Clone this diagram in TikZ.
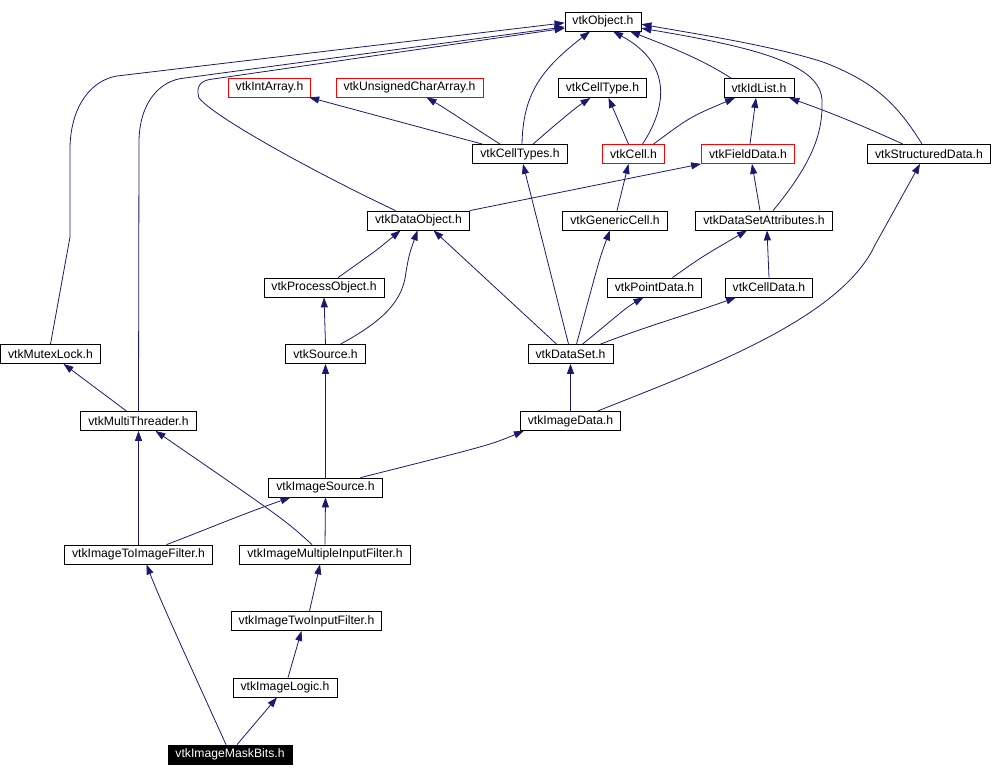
\documentclass[tikz,border=0pt]{standalone}
\usepackage{fontspec}
\setmainfont{Liberation Sans}
\usetikzlibrary{arrows.meta}
\definecolor{edgeblue}{RGB}{25,25,112}
\tikzset{
  hdr/.style={draw=black, line width=0.8pt, font=\fontsize{12.2}{14}\selectfont,
    inner xsep=7.5pt, inner ysep=0pt, minimum height=19pt},
  undoc/.style={hdr, draw=red},
  cur/.style={hdr, fill=black, text=white},
  inh/.style={draw=edgeblue, line width=0.8pt, -{Triangle[length=10pt,width=7pt]}},
}

\begin{document}
\begin{tikzpicture}[x=1pt, y=-1pt]
  \useasboundingbox (0,0) rectangle (992,776);

  \node[hdr] (obj) at (603,21.5) {vtkObject.h};
  \node[undoc] (intarr) at (269.5,87.5) {vtkIntArray.h};
  \node[undoc] (ucarr) at (409.5,87.5) {vtkUnsignedCharArray.h};
  \node[hdr] (ctype) at (602.5,88) {vtkCellType.h};
  \node[hdr] (idl) at (759,88) {vtkIdList.h};
  \node[hdr] (ctypes) at (520,154) {vtkCellTypes.h};
  \node[undoc] (cell) at (633.5,154) {vtkCell.h};
  \node[undoc] (fdata) at (748,154) {vtkFieldData.h};
  \node[hdr] (sdata) at (929,154) {vtkStructuredData.h};
  \node[hdr] (dobj) at (418.5,220.5) {vtkDataObject.h};
  \node[hdr] (gcell) at (615,220.5) {vtkGenericCell.h};
  \node[hdr] (dsa) at (764,220.5) {vtkDataSetAttributes.h};
  \node[hdr] (pobj) at (324,287.5) {vtkProcessObject.h};
  \node[hdr] (pdata) at (654.5,287.5) {vtkPointData.h};
  \node[hdr] (cdata) at (769,287.5) {vtkCellData.h};
  \node[hdr] (mutex) at (50.5,354) {vtkMutexLock.h};
  \node[hdr] (src) at (325.5,354) {vtkSource.h};
  \node[hdr] (dset) at (570.5,354) {vtkDataSet.h};
  \node[hdr] (thread) at (138.5,421) {vtkMultiThreader.h};
  \node[hdr] (imgdata) at (570.5,421) {vtkImageData.h};
  \node[hdr] (isrc) at (325.5,487.5) {vtkImageSource.h};
  \node[hdr] (i2i) at (138.5,554.5) {vtkImageToImageFilter.h};
  \node[hdr] (imif) at (325,554.5) {vtkImageMultipleInputFilter.h};
  \node[hdr] (i2f) at (306.5,621) {vtkImageTwoInputFilter.h};
  \node[hdr] (logic) at (285,687.5) {vtkImageLogic.h};
  \node[cur] (mask) at (230,754.5) {vtkImageMaskBits.h};

  \draw[inh] (mutex.north) -- (70,237) -- (70,147) .. controls (71,105) and (92,80) .. (117,76) -- (obj.182);
  \draw[inh] (thread.north) -- (139,140) .. controls (140,102) and (160,80) .. (185,78) -- (obj.188);
  \draw[inh] ([xshift=-23]dobj.north) .. controls (320,175) and (215,118) .. (199,98)
    .. controls (195,84) and (203,80) .. (213,79) -- (obj.190);
  \draw[inh] ([xshift=2]ctypes.north) .. controls (523,95) and (540,70) .. ([xshift=-13]obj.south);
  \draw[inh] ([xshift=9]cell.north) .. controls (665,110) and (675,65) .. ([xshift=10]obj.south);
  \draw[inh] ([xshift=-28]idl.north) .. controls (700,58) and (665,45) .. ([xshift=27]obj.south);
  \draw[inh] ([xshift=9]dsa.north) .. controls (815,160) and (823,130) .. (822,100)
    .. controls (820,65) and (760,48) .. (obj.-10);
  \draw[inh] ([xshift=-7]sdata.north) .. controls (895,100) and (870,80) .. (823,62)
    .. controls (770,45) and (690,33) .. (obj.-4);

  \draw[inh] ([xshift=10]ctypes.north west) -- ([xshift=-2]intarr.south east);
  \draw[inh] ([xshift=-20]ctypes.north) .. controls (470,125) and (448,110) .. ([xshift=17]ucarr.south);
  \draw[inh] ([xshift=13]ctypes.north) .. controls (555,125) and (575,108) .. ([xshift=-12]ctype.south);
  \draw[inh] ([xshift=-5]cell.north) -- ([xshift=6]ctype.south);
  \draw[inh] ([xshift=20]cell.north) .. controls (690,117) .. ([xshift=-24]idl.south);
  \draw[inh] ([xshift=2]fdata.north) -- ([xshift=-3]idl.south);
  \draw[inh] ([xshift=-26]sdata.north) .. controls (850,120) and (823,110) .. ([xshift=-5]idl.south east);

  \draw[inh] (dobj.north east) -- (fdata.south west);
  \draw[inh] ([xshift=2]gcell.north) -- ([xshift=-5]cell.south);
  \draw[inh] ([xshift=-4]dsa.north) -- ([xshift=4]fdata.south);

  \draw[inh] ([xshift=14]pobj.north) .. controls (377,250) .. ([xshift=-18]dobj.south);
  \draw[inh] ([xshift=15]src.north) .. controls (385,320) and (403,300) .. (406,272)
    .. controls (409,255) .. ([xshift=-1]dobj.south);
  \draw[inh] ([xshift=-14]dset.north) -- ([xshift=15]dobj.south);
  \draw[inh] ([xshift=-2]dset.north) -- ([xshift=3]ctypes.south);
  \draw[inh] ([xshift=6]dset.north) .. controls (600,257) .. ([xshift=-5]gcell.south);
  \draw[inh] ([xshift=18]pdata.north) .. controls (700,258) .. ([xshift=-17]dsa.south);
  \draw[inh] (cdata.north) -- ([xshift=3]dsa.south);
  \draw[inh] ([xshift=12]dset.north) .. controls (610,322) and (625,308) .. ([xshift=-11]pdata.south);
  \draw[inh] ([xshift=30]dset.north) .. controls (650,325) and (690,314) .. ([xshift=-33]cdata.south);

  \draw[inh] (src.north) -- (pobj.south);
  \draw[inh] ([xshift=-12]thread.north) -- ([xshift=13]mutex.south);
  \draw[inh] (imgdata.north) -- (dset.south);
  \draw[inh] ([xshift=27]imgdata.north) .. controls (700,370) and (840,320) .. (875,245)
    -- ([xshift=-9]sdata.south);

  \draw[inh] (isrc.north) -- (src.south);
  \draw[inh] ([xshift=35]isrc.north) .. controls (490,445) .. ([xshift=4]imgdata.south west);
  \draw[inh] (i2i.north) -- (thread.south);
  \draw[inh] ([xshift=28]i2i.north) .. controls (205,530) and (240,515) .. ([xshift=-35]isrc.south);
  \draw[inh] ([xshift=-13]imif.north) .. controls (285,520) .. ([xshift=17]thread.south);
  \draw[inh] (imif.north) -- (isrc.south);
  \draw[inh] ([xshift=3]i2f.north) -- ([xshift=-5]imif.south);
  \draw[inh] ([xshift=3]logic.north) -- ([xshift=-5]i2f.south);
  \draw[inh] ([xshift=-4]mask.north) .. controls (190,665) and (160,600) .. ([xshift=8]i2i.south);
  \draw[inh] ([xshift=7]mask.north) -- ([xshift=-8]logic.south);
\end{tikzpicture}
\end{document}
